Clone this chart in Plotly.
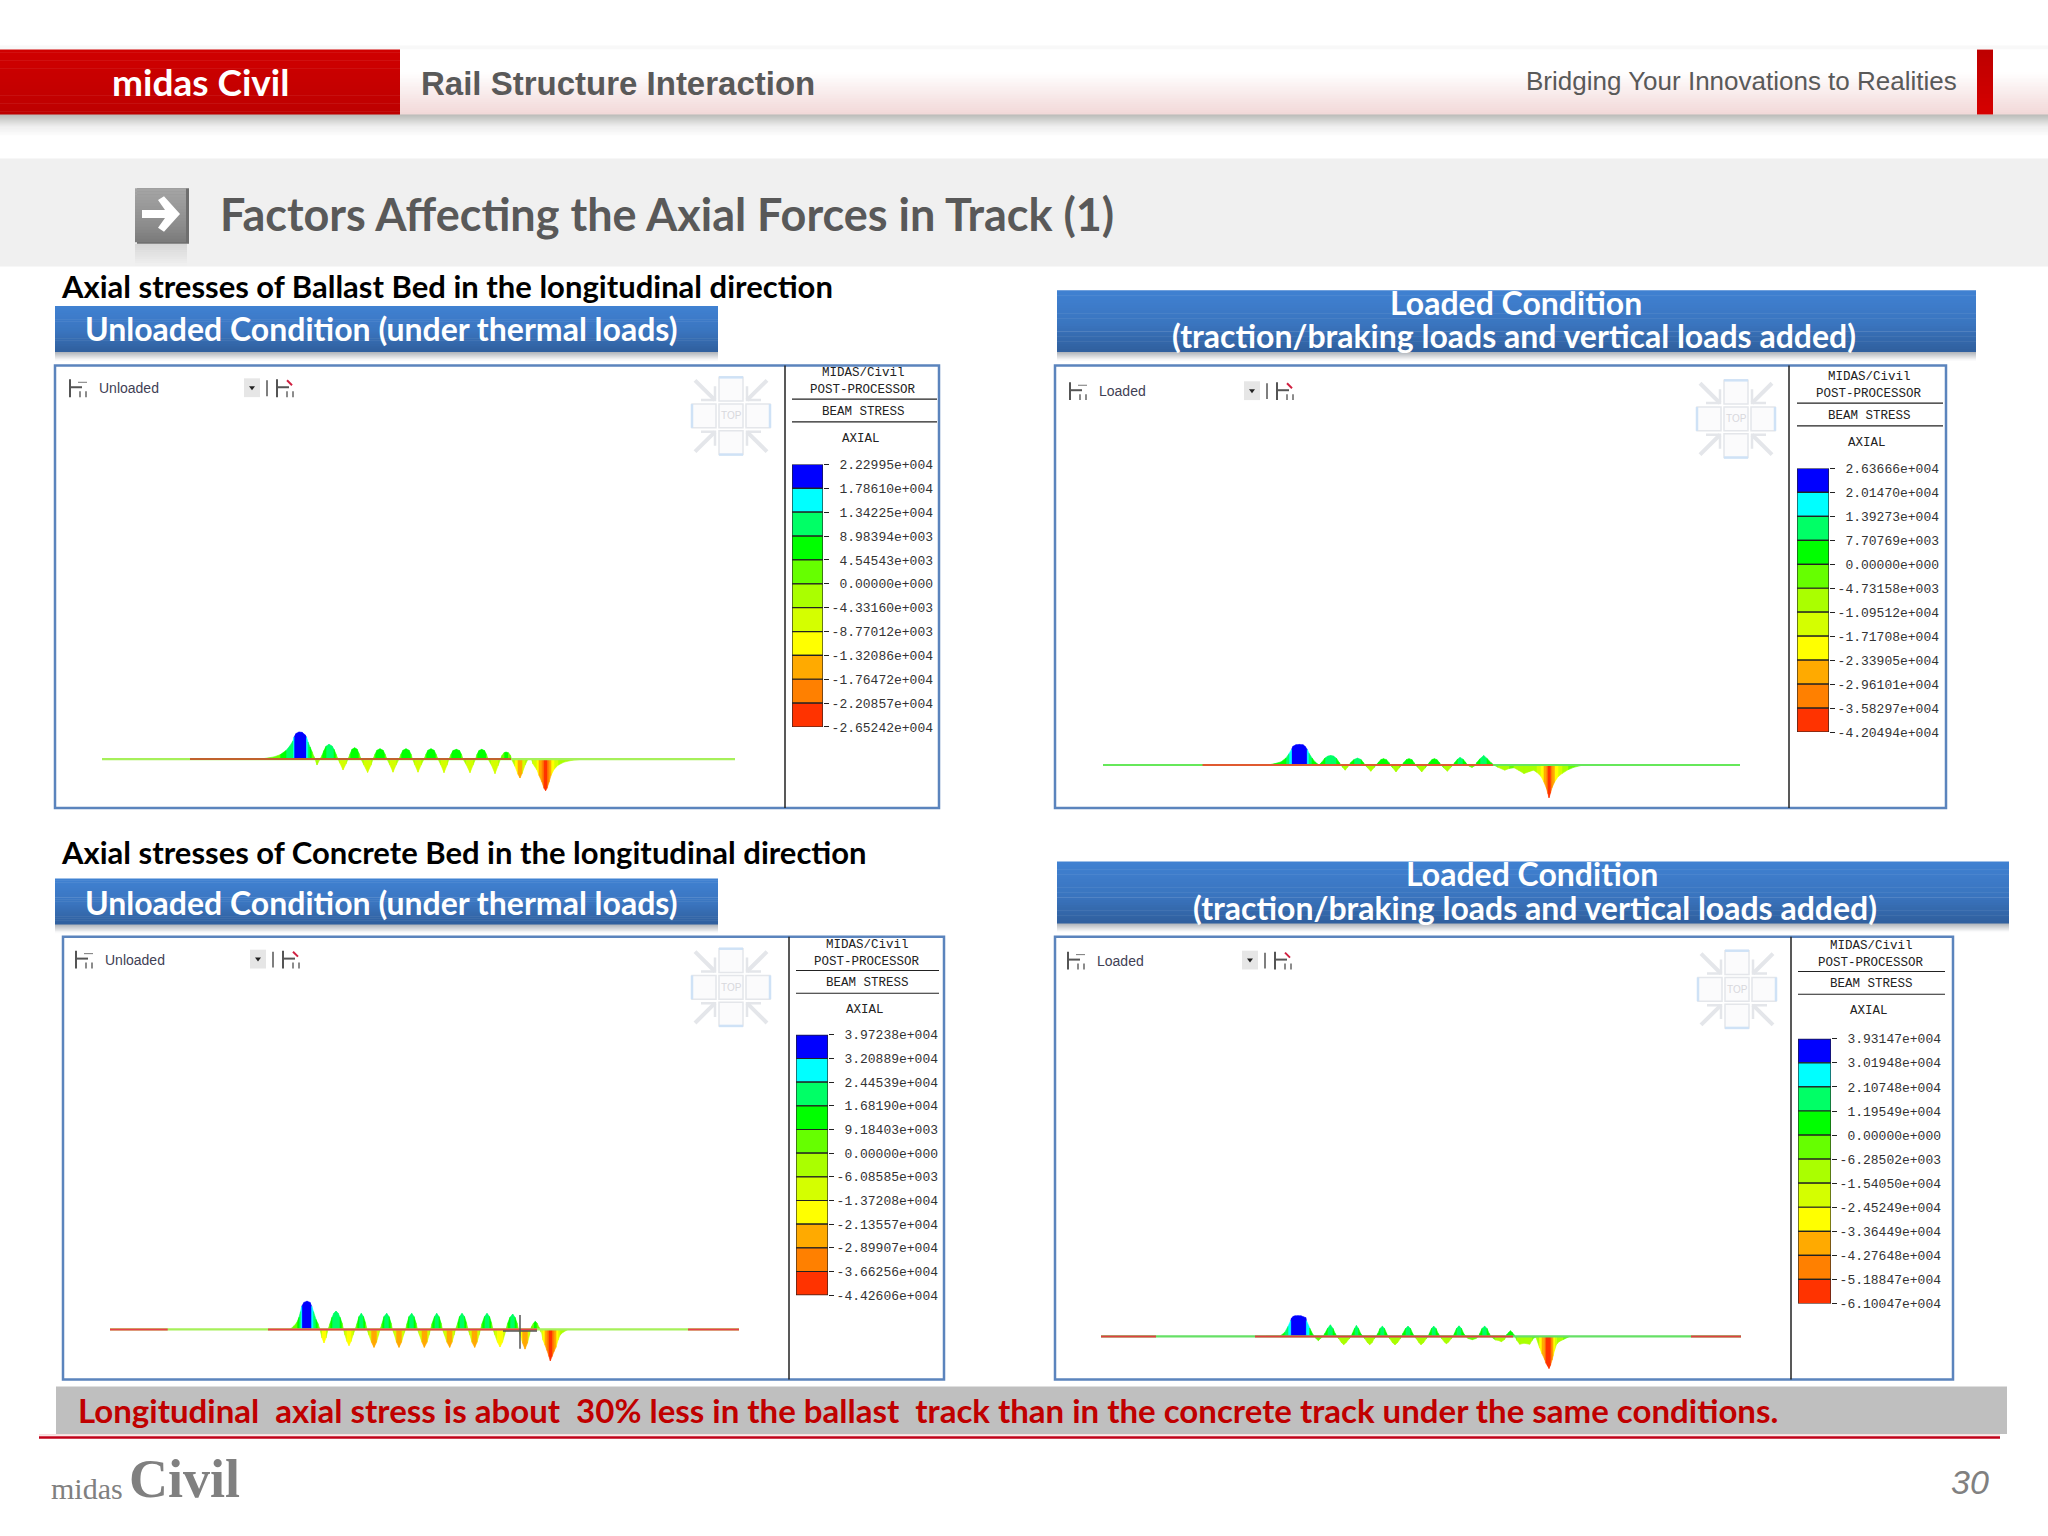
import plotly.graph_objects as go

W = 2048
H = 1536

# contour legend labels, top to bottom
LABELS_BALLAST_UNLOADED = ['2.22995e+004', '1.78610e+004', '1.34225e+004', '8.98394e+003', '4.54543e+003', '0.00000e+000',
                           '-4.33160e+003', '-8.77012e+003', '-1.32086e+004', '-1.76472e+004', '-2.20857e+004', '-2.65242e+004']
LABELS_BALLAST_LOADED = ['2.63666e+004', '2.01470e+004', '1.39273e+004', '7.70769e+003', '0.00000e+000', '-4.73158e+003',
                         '-1.09512e+004', '-1.71708e+004', '-2.33905e+004', '-2.96101e+004', '-3.58297e+004', '-4.20494e+004']
LABELS_CONCRETE_UNLOADED = ['3.97238e+004', '3.20889e+004', '2.44539e+004', '1.68190e+004', '9.18403e+003', '0.00000e+000',
                            '-6.08585e+003', '-1.37208e+004', '-2.13557e+004', '-2.89907e+004', '-3.66256e+004', '-4.42606e+004']
LABELS_CONCRETE_LOADED = ['3.93147e+004', '3.01948e+004', '2.10748e+004', '1.19549e+004', '0.00000e+000', '-6.28502e+003',
                          '-1.54050e+004', '-2.45249e+004', '-3.36449e+004', '-4.27648e+004', '-5.18847e+004', '-6.10047e+004']

BAND_COLORS = ['#0000ff', '#00ffff', '#00ff66', '#00ff00', '#66ff00', '#aaff00',
               '#d4ff00', '#ffff00', '#ffaa00', '#ff8000', '#ff3300']

# stress, station in m along the model
STATIONS_BU = [150, 158, 165, 172, 178, 184, 188, 191, 192, 194, 197, 200, 203, 204.5, 206, 208, 210, 212, 213,
               215, 218,
               220, 222, 224, 227, 230, 232, 234, 236,
               238, 241, 244, 246,
               248, 250, 252.6, 255, 257, 259,
               262, 265.6, 269, 271,
               273, 275, 278, 281, 283, 285,
               288, 291, 294, 297,
               299, 301, 304, 307, 309, 310.5,
               313, 316, 319, 322,
               324, 326, 329, 332, 334, 336,
               339, 342, 345, 347,
               349, 351, 354.4, 357.5, 359.5, 361,
               364.5, 368, 371, 373.5,
               375, 377, 379.7, 382.5, 384.5, 386,
               389.5, 393, 396, 398.5,
               400, 402, 404, 406.5, 408.5, 409.5,
               413, 416, 418, 420, 423, 426,
               429.4, 431, 435, 437, 440, 442, 443.6, 445, 447, 449, 452, 456, 462, 470, 482]
STRESS_BU = [0, 300, 800, 1800, 3500, 7000, 11000, 15000, 18000, 21000, 22300, 22000, 20000, 18000, 14000, 10000, 6000, 2000, 0,
             -4900, 0,
             3000, 7000, 10500, 12200, 10800, 8000, 4000, 0,
             -3500, -8900, -4000, 0,
             4000, 8000, 9300, 8200, 4500, 0,
             -5000, -11000, -5000, 0,
             4000, 7300, 8500, 7300, 4000, 0,
             -5000, -10800, -5000, 0,
             4000, 7300, 8500, 7300, 4000, 0,
             -5000, -10800, -5000, 0,
             4000, 7300, 8500, 7300, 4000, 0,
             -5000, -11200, -5000, 0,
             3800, 7000, 8000, 7000, 3800, 0,
             -5000, -11200, -5000, 0,
             3800, 7000, 8000, 7000, 3800, 0,
             -5000, -12000, -5500, 0,
             3000, 5200, 5800, 5200, 3000, 0,
             -6000, -12500, -15600, -12000, -5000, 0,
             -500, -4000, -9000, -13500, -19000, -24000, -26000, -24000, -19000, -13500, -8500, -5000, -2500, -1000, 0]

STATIONS_BL = [158, 165, 172, 178, 183, 186, 188.5, 190, 193, 196.3, 200, 202, 204.3, 206, 209, 212, 216,
               219, 222, 225, 227.7, 230.5, 233.5, 236, 238,
               240, 242.2, 244.5, 246,
               248, 251, 254.5, 258, 260.5, 262,
               264.5, 267.8, 271, 273,
               275.5, 278, 280.5, 283.5, 286, 287,
               290, 293, 296, 299,
               301, 303.5, 306, 309, 311, 312.5,
               315.5, 318.7, 322, 324.5,
               326.5, 329, 331.4, 334, 336.5, 338,
               341, 344.4, 347.5, 350,
               352, 354.5, 357, 360, 362.5, 364.5,
               367, 369, 371, 372.5,
               374, 377, 380.7, 384, 388, 391,
               395, 401.8, 406, 411, 416, 421, 426, 430.5, 434, 438, 441, 443.5, 445, 446,
               447.5, 449, 451.5, 455, 459, 465, 470.7, 480]
STRESS_BL = [200, 700, 1800, 4000, 9000, 14500, 20000, 24000, 26000, 26400, 26000, 24000, 20000, 15000, 9000, 4000, 0,
             4000, 9000, 11500, 12200, 11500, 8500, 3500, 0,
             -3500, -6600, -3000, 0,
             3500, 7000, 8900, 7000, 3000, 0,
             -3500, -8000, -3500, 0,
             3500, 7000, 8100, 6800, 3000, 0,
             -4000, -8800, -4000, 0,
             3500, 7000, 8100, 6800, 3000, 0,
             -4000, -8800, -4000, 0,
             3500, 7000, 8100, 6800, 3000, 0,
             -4000, -8000, -3500, 0,
             3500, 7500, 9700, 7500, 3500, 0,
             -2000, -3100, -1500, 0,
             3500, 8000, 12200, 8500, 3000, 0,
             -3000, -6600, -4500, -3500, -7000, -11000, -8500, -6600, -9500, -14500, -22000, -30000, -37000, -42000,
             -36000, -29000, -22000, -15000, -11000, -6000, -3000, 0]

STATIONS_CU = [158, 172, 180, 184, 187, 189, 190.5, 191.7, 194, 197, 200, 201.7, 203.5, 206, 208, 210,
               212, 214, 216, 218,
               220, 222, 224, 226, 228, 230, 232, 233.5,
               235, 237, 239, 241, 243, 245,
               247, 249, 251.3, 253.5, 255.5, 257,
               259, 261.5, 264, 266.5, 268.5, 270,
               272, 274, 276.7, 279, 281, 282.5,
               284.5, 286.5, 289, 291.5, 293.5, 295.5,
               297, 299, 301.7, 304, 306, 307.5,
               309.5, 312, 314.3, 317, 319, 320.5,
               322, 324.5, 326.7, 329, 331, 332.5,
               334.5, 337, 339.7, 342, 344, 345.5,
               347.5, 349.5, 352, 354.5, 356.5, 358,
               360, 362, 364.7, 367, 369, 370.5,
               372, 374.5, 377, 379.5, 381.5, 383,
               385, 387.5, 390, 392.5, 394.5, 396,
               397.5, 400, 402.7, 405, 407, 408.5,
               410.5, 412.5, 415, 417.5, 419.5, 420.5,
               421.5, 423.5, 425.3, 427, 429, 430,
               431, 433, 435, 437, 439, 440.3, 442, 444, 446, 448, 450, 453, 458]
STRESS_CU = [500, 700, 1000, 5000, 10000, 17000, 25000, 32500, 38000, 39700, 38000, 32500, 25000, 14000, 8000, 0,
             -12000, -19000, -12000, 0,
             8000, 17000, 23000, 25800, 23000, 17000, 9000, 0,
             -8000, -17000, -22800, -17000, -8000, 0,
             8000, 18000, 22600, 18000, 9000, 0,
             -8000, -18000, -25200, -18000, -8000, 0,
             8000, 18000, 22600, 18000, 9000, 0,
             -8000, -18000, -25200, -18000, -8000, 0,
             8000, 18000, 22600, 18000, 9000, 0,
             -8000, -18000, -25200, -18000, -8000, 0,
             8000, 18000, 22600, 18000, 9000, 0,
             -8000, -18000, -25200, -18000, -8000, 0,
             8000, 18000, 22600, 18000, 9000, 0,
             -8000, -18000, -25200, -18000, -8000, 0,
             8000, 18000, 22600, 18000, 9000, 0,
             -8000, -18000, -24700, -18000, -8000, 0,
             8000, 17000, 21600, 17000, 9000, 0,
             -9000, -19000, -27600, -19000, -8000, 0,
             4000, 9000, 11300, 9000, 3000, 0,
             -4000, -15000, -22000, -29500, -38000, -44000, -38000, -31000, -25000, -15000, -8000, -4000, 0]

STATIONS_CL = [165, 172, 178.7, 183.7, 187, 189.7, 190.5, 192, 194, 197, 200, 202, 204.7, 205.4, 208.7, 212, 213.7,
               215, 217.4, 219.5, 222,
               224, 226.5, 229.4, 232, 234, 236,
               238, 240.5, 242.7, 245, 248, 250,
               251.5, 253.5, 255.4, 257.5, 259.5, 262,
               264, 266.5, 268.7, 271, 273, 275,
               277, 279, 281.4, 283.5, 285.5, 287,
               289, 291.5, 294, 296.5, 299, 300.5,
               302, 304.5, 307, 309.5, 311.5, 313.5,
               315.5, 318, 320, 322.5, 325, 327,
               328.5, 330.5, 332.7, 335, 337, 339.3,
               341, 343.5, 345.4, 347.5, 350, 352,
               353.5, 355.5, 358, 360.5, 362.5, 365,
               367, 371.4, 375, 377.5,
               379, 381, 383.7, 386, 388, 390,
               393, 394.5, 397, 400.4, 403.5, 405,
               406, 408, 409.4, 411, 413, 414,
               416, 418.7, 423, 428.7, 431, 432.7, 434.7,
               438.7, 441, 443.7, 445, 446.5, 448, 449.5, 451, 452, 453.5, 455.4, 458, 462, 466, 469]
STRESS_CL = [300, 600, 1000, 7500, 18800, 30000, 34500, 37600, 39000, 39300, 39000, 37500, 35700, 30000, 15700, 3100, 0,
             -4000, -8100, -4000, 0,
             6000, 15000, 21900, 15000, 6000, 0,
             -5000, -12000, -15700, -12000, -5000, 0,
             6000, 15000, 20700, 15000, 6000, 0,
             -5000, -12000, -15700, -12000, -5000, 0,
             6000, 15000, 19400, 15000, 6000, 0,
             -5000, -12000, -16000, -12000, -5000, 0,
             6000, 15000, 19400, 15000, 6000, 0,
             -5000, -12000, -15700, -12000, -5000, 0,
             6000, 15000, 19400, 15000, 6000, 0,
             -5000, -11000, -13800, -11000, -5000, 0,
             6000, 15000, 20000, 15000, 6000, 0,
             -4000, -6300, -4000, 0,
             6000, 15000, 19400, 15000, 6000, 0,
             -5000, -7000, -7500, -10000, -6000, 0,
             4000, 8000, 10700, 8000, 3000, 0,
             -8000, -15000, -13000, -15000, -8000, -3100, -2000,
             -22000, -33000, -44000, -51000, -56000, -61000, -55000, -45000, -37600, -27000, -15700, -10000, -6300, -2500, 0]

# rail line: whole model and the stretches drawn in the tension colour
RAIL_BU = [0, 633]
RED_BU = [[88, 409]]
RAIL_BL = [0, 637]
RED_BL = [[99.5, 390]]
RAIL_CU = [0, 629]
RED_CU = [[0, 57.7], [158, 427], [578, 629]]
RAIL_CL = [0, 640]
RED_CL = [[0, 55], [154, 412], [590, 640]]

PANELS = [
    dict(left=55, right=939, top=363, bottom=810, divider=785, origin=102, zero=760.5, per_px=815,
         stations=STATIONS_BU, stress=STRESS_BU, labels=LABELS_BALLAST_UNLOADED, rail=RAIL_BU, red=RED_BU,
         rail_color='#a6f05a', red_color='#c0622d', bar_left=792, bar_right=823, bar_top=463, bar_step=24.1,
         header_x=863, header_left=792, header_right=937, header_y=371, tool_x=70, tool_y=386, tool_text='Unloaded',
         cube_x=731, cube_y=414),
    dict(left=1055, right=1946, top=363, bottom=810, divider=1789, origin=1103, zero=766.5, per_px=1270,
         stations=STATIONS_BL, stress=STRESS_BL, labels=LABELS_BALLAST_LOADED, rail=RAIL_BL, red=RED_BL,
         rail_color='#66e85a', red_color='#e05a30', bar_left=1797, bar_right=1829, bar_top=467, bar_step=24.2,
         header_x=1869, header_left=1797, header_right=1943, header_y=375, tool_x=1070, tool_y=389, tool_text='Loaded',
         cube_x=1736, cube_y=417),
    dict(left=63, right=944, top=940, bottom=1387, divider=789, origin=110, zero=1336.5, per_px=1390,
         stations=STATIONS_CU, stress=STRESS_CU, labels=LABELS_CONCRETE_UNLOADED, rail=RAIL_CU, red=RED_CU,
         rail_color='#a6f05a', red_color='#e8404a', bar_left=796, bar_right=828, bar_top=1039, bar_step=23.9,
         header_x=867, header_left=796, header_right=939, header_y=948, tool_x=76, tool_y=963, tool_text='Unloaded',
         cube_x=731, cube_y=991),
    dict(left=1055, right=1953, top=940, bottom=1387, divider=1791, origin=1101, zero=1343.5, per_px=1880,
         stations=STATIONS_CL, stress=STRESS_CL, labels=LABELS_CONCRETE_LOADED, rail=RAIL_CL, red=RED_CL,
         rail_color='#66e066', red_color='#e04040', bar_left=1798, bar_right=1831, bar_top=1043, bar_step=24.3,
         header_x=1871, header_left=1798, header_right=1945, header_y=949, tool_x=1068, tool_y=964, tool_text='Loaded',
         cube_x=1737, cube_y=993),
]

TITLE_FONT = 'Lato'
ARIAL = 'Liberation Sans'
MONO = 'Liberation Mono'

shapes = []
annotations = []


def rect(x0, y0, x1, y1, fill=None, line=None, width=0, layer='below'):
    shapes.append(dict(type='rect', xref='x', yref='y', x0=x0, y0=y0, x1=x1, y1=y1, layer=layer,
                       fillcolor=fill if fill else 'rgba(0,0,0,0)',
                       line=dict(color=line if line else 'rgba(0,0,0,0)', width=width)))


def seg(x0, y0, x1, y1, color='#000000', width=1, layer='below'):
    shapes.append(dict(type='line', xref='x', yref='y', x0=x0, y0=y0, x1=x1, y1=y1, layer=layer,
                       line=dict(color=color, width=width)))


def path(d, fill=None, line=None, width=0, layer='below'):
    shapes.append(dict(type='path', xref='x', yref='y', path=d, layer=layer,
                       fillcolor=fill if fill else 'rgba(0,0,0,0)',
                       line=dict(color=line if line else 'rgba(0,0,0,0)', width=width)))


def hex_rgb(c):
    return [int(c[i:i + 2], 16) for i in (1, 3, 5)]


def gradient(x0, y0, x1, y1, stops, n=None):
    # vertical gradient made of thin strips, stops = [(fraction, colour), ...]
    n = n if n else int(y1 - y0)
    for i in range(n):
        f = (i + 0.5) / n
        for (f0, c0), (f1, c1) in zip(stops, stops[1:]):
            if f0 <= f <= f1:
                t = (f - f0) / (f1 - f0)
                a = hex_rgb(c0)
                b = hex_rgb(c1)
                col = [round(a[k] + (b[k] - a[k]) * t) for k in range(3)]
                break
        ya = y0 + (y1 - y0) * i / n
        yb = y0 + (y1 - y0) * (i + 1) / n + 0.5
        rect(x0, ya, x1, yb, fill='rgb(%d,%d,%d)' % tuple(col))


def label(x, y, text, size, color='#000000', family=TITLE_FONT, bold=False, italic=False, anchor='left'):
    annotations.append(dict(x=x, y=y, xref='x', yref='y', text=text, showarrow=False, xanchor=anchor, yanchor='middle',
                            borderpad=0, font=dict(size=size, color=color, family=family,
                                                   weight=700 if bold else 400,
                                                   style='italic' if italic else 'normal')))


def button(x0, y0, x1, y1):
    gradient(x0, y1, x1, y1 + 9, [(0, '#a9aeb5'), (1, '#ffffff')])
    gradient(x0, y0, x1, y1, [(0, '#4081d2'), (0.55, '#3a75bf'), (1, '#2f5f9d')], n=24)


def tool_icon(x, y, red=False):
    seg(x, y - 9, x, y + 9, '#555555', 2)
    seg(x, y - 1, x + 12, y - 1, '#555555', 2)
    seg(x + 10, y + 3, x + 10, y + 9, '#666666', 1.5)
    seg(x + 16, y + 3, x + 16, y + 9, '#666666', 1.5)
    if red:
        seg(x + 10, y - 8, x + 15, y - 3, '#d02040', 2)
    else:
        seg(x + 8, y - 6, x + 17, y - 6, '#777777', 1)


def toolbar(p):
    x = p['tool_x']
    y = p['tool_y']
    tool_icon(x, y)
    label(x + 28, y, p['tool_text'], 14, '#3f3f55', ARIAL)
    rect(x + 174, y - 10, x + 190, y + 9, fill='#e6e6e6')
    path('M %g %g L %g %g L %g %g Z' % (x + 179, y - 2, x + 185, y - 2, x + 182, y + 2), fill='#222222')
    seg(x + 197, y - 8, x + 197, y + 8, '#555555', 1.5)
    tool_icon(x + 207, y, red=True)


def nav_cube(cx, cy):
    grey = '#e4e6ea'
    blue = '#cfe2f6'
    for dx, dy in [(0, 0), (0, -27), (0, 27), (-27, 0), (27, 0)]:
        rect(cx + dx - 12, cy + dy - 12, cx + dx + 12, cy + dy + 12, fill='#fbfbfc', line=grey, width=1.5)
    seg(cx - 12, cy - 39, cx + 12, cy - 39, blue, 2.5)
    seg(cx - 12, cy + 39, cx + 12, cy + 39, blue, 2.5)
    seg(cx - 39, cy - 12, cx - 39, cy + 12, blue, 2.5)
    seg(cx + 39, cy - 12, cx + 39, cy + 12, blue, 2.5)
    label(cx, cy, 'TOP', 10, '#d8d8dc', ARIAL, anchor='center')
    # corner arrows pointing at the cube
    for sx, sy in [(-1, -1), (1, -1), (-1, 1), (1, 1)]:
        pts = [(16, 16), (36, 36)]
        path('M %g %g L %g %g' % (cx + sx * pts[0][0], cy + sy * pts[0][1], cx + sx * pts[1][0], cy + sy * pts[1][1]),
             line=grey, width=4)
        path('M %g %g L %g %g L %g %g' % (cx + sx * 16, cy + sy * 30, cx + sx * 16, cy + sy * 16, cx + sx * 30, cy + sy * 16),
             line=grey, width=2.5)


# slide furniture
rect(0, 40, W, 44, fill='#f8f8f8')
gradient(0, 109, W, 130, [(0, '#b7b8b5'), (0.6, '#eeeeee'), (1, '#fcfcfc')])
gradient(400, 44, W, 109, [(0, '#ffffff'), (0.35, '#ffffff'), (1, '#f2d8d8')], n=32)
gradient(0, 44, 400, 109, [(0, '#d00000'), (1, '#bd0000')], n=24)
gradient(1977, 44, 1993, 109, [(0, '#bd0000'), (1, '#d60000')], n=16)
rect(0, 154, W, 263, fill='#f0f0f0')

# arrow icon with its reflection
gradient(135, 240, 187, 262, [(0, '#d6d6d6'), (1, '#f0f0f0')], n=10)
rect(137, 184, 189, 240, fill='#6e6e6e')
gradient(135, 184, 186, 238, [(0, '#a5a5a5'), (0.7, '#8c8c8c'), (1, '#7a7a7a')], n=18)
path('M 142 206 L 165 206 L 158 196 L 164 192 L 180 210 L 164 228 L 158 224 L 165 214 L 142 214 Z', fill='#ffffff')

button(55, 303, 718, 349)
button(1057, 287, 1976, 349)
button(55, 881, 718, 927)
button(1057, 864, 2009, 926)

rect(56, 1394, 2007, 1442, fill='#bfbfbf')
seg(39, 1443, 2000, 1443, '#f3c6c6', 1)
seg(39, 1445.5, 2000, 1445.5, '#c00018', 2.5)

label(111, 76, 'midas Civil', 37, '#ffffff', TITLE_FONT, bold=True)
label(420, 78, 'Rail Structure Interaction', 33, '#595959', ARIAL, bold=True)
label(1525, 76, 'Bridging Your Innovations to Realities', 26, '#595959', ARIAL)
label(219, 210, 'Factors Affecting the Axial Forces in Track (1)', 45, '#595959', TITLE_FONT, bold=True)
label(60, 283, 'Axial stresses of Ballast Bed in the longitudinal direction', 31, '#000000', TITLE_FONT, bold=True)
label(84, 326, 'Unloaded Condition (under thermal loads)', 32, '#ffffff', TITLE_FONT, bold=True)
label(1516, 299, 'Loaded Condition', 32, '#ffffff', TITLE_FONT, bold=True, anchor='center')
label(1514, 333, '(traction/braking loads and vertical loads added)', 32, '#ffffff', TITLE_FONT, bold=True, anchor='center')
label(60, 854, 'Axial stresses of Concrete Bed in the longitudinal direction', 31, '#000000', TITLE_FONT, bold=True)
label(84, 905, 'Unloaded Condition (under thermal loads)', 32, '#ffffff', TITLE_FONT, bold=True)
label(1532, 876, 'Loaded Condition', 32, '#ffffff', TITLE_FONT, bold=True, anchor='center')
label(1535, 910, '(traction/braking loads and vertical loads added)', 32, '#ffffff', TITLE_FONT, bold=True, anchor='center')
label(77, 1418, 'Longitudinal  axial stress is about  30% less in the ballast  track than in the concrete track under the same conditions.',
      33, '#c00000', TITLE_FONT, bold=True)
label(50, 1497, 'midas', 30, '#808080', 'Liberation Sans Narrow')
label(128, 1488, 'Civil', 54, '#808080', 'Liberation Sans Narrow', bold=True)
label(1950, 1491, '30', 34, '#808080', ARIAL, italic=True)

fig = go.Figure()

layout_axes = {
    'xaxis': dict(range=[0, W], domain=[0, 1], visible=False, fixedrange=True),
    'yaxis': dict(range=[H, 0], domain=[0, 1], visible=False, fixedrange=True),
}
# keep the furniture axes alive with an empty trace
fig.add_trace(go.Scatter(x=[None], y=[None], xaxis='x', yaxis='y', showlegend=False, hoverinfo='skip'))

for k, p in enumerate(PANELS):
    rect(p['left'], p['top'], p['right'], p['bottom'], fill='#ffffff', line='#5b84bd', width=2.5)
    seg(p['divider'], p['top'], p['divider'], p['bottom'], '#222222', 1.5)
    toolbar(p)
    nav_cube(p['cube_x'], p['cube_y'])

    # legend header
    hx = p['header_x']
    hy = p['header_y']
    label(hx, hy, 'MIDAS/Civil', 12.5, '#222222', MONO, anchor='center')
    label(hx, hy + 17, 'POST-PROCESSOR', 12.5, '#222222', MONO, anchor='center')
    seg(p['header_left'], hy + 26, p['header_right'], hy + 26, '#222222', 1.2)
    label(hx, hy + 39, 'BEAM STRESS', 12.5, '#222222', MONO, anchor='center')
    seg(p['header_left'], hy + 49, p['header_right'], hy + 49, '#222222', 1.2)
    label(hx - 2, hy + 66, 'AXIAL', 12.5, '#222222', MONO, anchor='center')

    # diagram axes: one station metre is one pixel, stress scaled to pixels
    xa = 'xaxis%d' % (2 * k + 2)
    ya = 'yaxis%d' % (2 * k + 2)
    xid = 'x%d' % (2 * k + 2)
    yid = 'y%d' % (2 * k + 2)
    layout_axes[xa] = dict(domain=[p['left'] / W, p['divider'] / W], range=[p['left'] - p['origin'], p['divider'] - p['origin']],
                           visible=False, fixedrange=True, anchor=yid)
    layout_axes[ya] = dict(domain=[1 - p['bottom'] / H, 1 - p['top'] / H],
                           range=[(p['zero'] - p['bottom']) * p['per_px'], (p['zero'] - p['top']) * p['per_px']],
                           visible=False, fixedrange=True, anchor=xid)

    levels = [float(t) for t in p['labels']]
    band_x = [[] for _ in BAND_COLORS]
    band_y = [[] for _ in BAND_COLORS]
    st = p['stations']
    sv = p['stress']
    for i in range(len(st) - 1):
        mid = (sv[i] + sv[i + 1]) / 2
        b = len(BAND_COLORS) - 1
        for j in range(len(BAND_COLORS)):
            if mid >= levels[j + 1]:
                b = j
                break
        band_x[b] += [st[i], st[i + 1], st[i + 1], st[i], st[i], None]
        band_y[b] += [0, 0, sv[i + 1], sv[i], 0, None]
    for b, color in enumerate(BAND_COLORS):
        if band_x[b]:
            fig.add_trace(go.Scatter(x=band_x[b], y=band_y[b], mode='lines', fill='toself', fillcolor=color,
                                     line=dict(color=color, width=0.6), xaxis=xid, yaxis=yid,
                                     showlegend=False, hoverinfo='skip'))
    fig.add_trace(go.Scatter(x=p['rail'], y=[0, 0], mode='lines', line=dict(color=p['rail_color'], width=2.2),
                             xaxis=xid, yaxis=yid, showlegend=False, hoverinfo='skip'))
    for a, b in p['red']:
        fig.add_trace(go.Scatter(x=[a, b], y=[0, 0], mode='lines', line=dict(color=p['red_color'], width=2),
                                 xaxis=xid, yaxis=yid, showlegend=False, hoverinfo='skip'))

    # contour legend as a stacked bar
    xb = 'xaxis%d' % (2 * k + 3)
    yb = 'yaxis%d' % (2 * k + 3)
    xbid = 'x%d' % (2 * k + 3)
    ybid = 'y%d' % (2 * k + 3)
    n = len(BAND_COLORS)
    bar_bottom = p['bar_top'] + n * p['bar_step']
    layout_axes[xb] = dict(domain=[p['bar_left'] / W, p['bar_right'] / W], range=[-0.5, 0.5],
                           visible=False, fixedrange=True, anchor=ybid)
    layout_axes[yb] = dict(domain=[1 - bar_bottom / H, 1 - p['bar_top'] / H], range=[n, 0], fixedrange=True, anchor=xbid,
                           side='right', showgrid=False, zeroline=False, showline=False,
                           ticks='outside', ticklen=5, tickwidth=1.2, tickcolor='#222222',
                           tickvals=list(range(n + 1)),
                           ticktext=[t if t.startswith('-') else '\u00a0' + t for t in p['labels']],
                           tickfont=dict(family=MONO, size=13, color='#333333'))
    fig.add_trace(go.Bar(x=[0] * n, y=[1] * n, base=list(range(n)), width=[1] * n, marker=dict(color=BAND_COLORS, line=dict(color='#222222', width=1.2)),
                         xaxis=xbid, yaxis=ybid, showlegend=False, hoverinfo='skip'))

# mouse cursor caught in the concrete unloaded screenshot
seg(520, 1322, 520, 1356, '#555555', 1.5, layer='above')
seg(503, 1338, 537, 1338, '#555555', 1.5, layer='above')

fig.update_layout(width=W, height=H, margin=dict(l=0, r=0, t=0, b=0), paper_bgcolor='#ffffff', plot_bgcolor='rgba(0,0,0,0)',
                  showlegend=False, shapes=shapes, annotations=annotations, **layout_axes)

fig.write_html("out.html", config=dict(displayModeBar=False), post_script="document.body.style.margin='0';")
